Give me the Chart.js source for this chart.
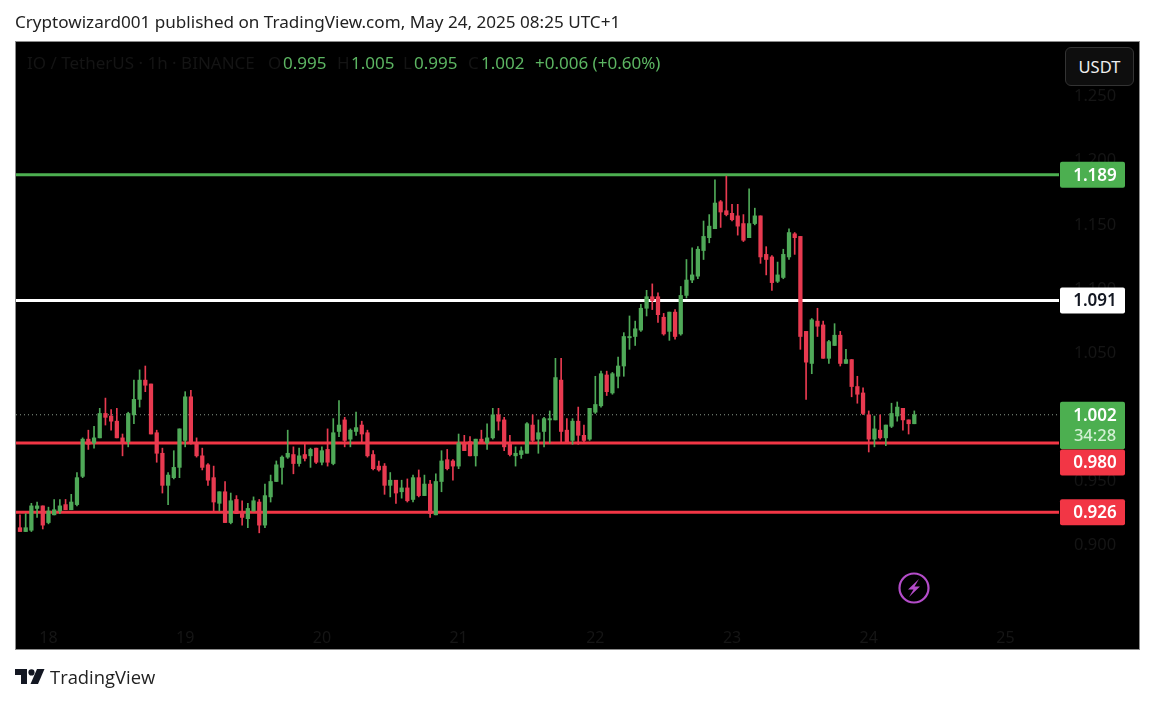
<!DOCTYPE html>
<html>
<head>
<meta charset="utf-8">
<script src="https://cdn.jsdelivr.net/npm/chart.js@4"></script>
<style>
    html, body { margin: 0; padding: 0; background: #fff; }
    #wrap { position: relative; width: 1155px; height: 703px; overflow: hidden; font-family: "Noto Sans", sans-serif; }
    #wrap span, #wrap div { position: absolute; white-space: nowrap; }
    #title { left: 15px; top: 11px; font-size: 17.1px; line-height: 22px; color: #222; }
    .legend { top: 52px; font-size: 17px; line-height: 22px; }
    .dim { color: #141414; }
    .val { color: #5cb562; }
    #usdt { left: 1065px; top: 47px; width: 67px; height: 37px; line-height: 37px; text-align: center; border: 1px solid #333; border-radius: 6px; background: #0e0e0e; color: #eee; font-size: 16.5px; }
    #brand { left: 50px; top: 664px; font-size: 18.4px; line-height: 26px; color: #222; font-family: "Open Sans", sans-serif; }
    canvas { position: absolute; left: 0; top: 0; }
    svg { position: absolute; }
</style>
</head>
<body>
<div id="wrap">
    <canvas id="chart" width="1155" height="703"></canvas>
    <span id="title">Cryptowizard001 published on TradingView.com, May 24, 2025 08:25 UTC+1</span>
    <span class="legend dim" style="left:27px">IO / TetherUS · 1h · BINANCE</span>
    <span class="legend dim" style="left:268px">O</span><span class="legend val" style="left:283px">0.995</span>
    <span class="legend dim" style="left:337px">H</span><span class="legend val" style="left:351px">1.005</span>
    <span class="legend dim" style="left:403px">L</span><span class="legend val" style="left:414px">0.995</span>
    <span class="legend dim" style="left:468px">C</span><span class="legend val" style="left:481px">1.002</span>
    <span class="legend val" style="left:535px">+0.006 (+0.60%)</span>
    <div id="usdt">USDT</div>
    <svg style="left:15px;top:669px" width="30" height="16" viewBox="0 0 30 16">
        <path fill="#131722" d="M0 0h12v15H6V6H0z"/>
        <circle fill="#131722" cx="16.5" cy="3.4" r="3.1"/>
        <path fill="#131722" d="M22 0h7.5L23 15h-7.5z"/>
    </svg>
    <span id="brand">TradingView</span>
    <svg style="left:898px;top:572px" width="32" height="32" viewBox="0 0 32 32">
        <circle cx="16" cy="16" r="14.5" fill="none" stroke="#b44cc9" stroke-width="2.2"/>
        <path fill="#b44cc9" d="M21 7L10 17.5h5.5L11 25l11-10.5h-5.5z"/>
    </svg>
</div>
<script>
// IO / USDT 1h candles
const opens = [
    .914, .911, .912, .929, .931, .918, .924, .927, .932, .928,
    .932, .954, .983, .98, .984, 1.003, 1.001, .997, .984, .981,
    1.002, 1.014, 1.029, 1.026, .988, .972, .947, .953, .961, .982,
    1.016, .98, .97, .963, .953, .933, .942, .918, .936, .926,
    .921, .927, .934, .916, .938, .95, .961, .969, .971, .964,
    .971, .97, .976, .965, .975, .964, .989, .998, .983, .989,
    .994, .988, .971, .962, .962, .947, .951, .942, .945, .936,
    .953, .939, .948, .924, .95, .967, .966, .962, .979, .981,
    .97, .983, .98, .984, 1.002, .998, .979, .97, .971, .972,
    .994, .983, .989, .998, .998, 1.029, .99, .982, .997, .986,
    .983, 1.004, 1.009, 1.033, 1.019, 1.032, 1.04, 1.062, 1.063, 1.068,
    1.085, 1.094, 1.094, 1.078, 1.067, 1.082, 1.065, 1.095, 1.107, 1.11,
    1.13, 1.14, 1.147, 1.168, 1.161, 1.159, 1.157, 1.151, 1.14, 1.151,
    1.157, 1.127, 1.125, 1.106, 1.109, 1.125, 1.143, 1.141, 1.067, 1.042,
    1.075, 1.072, 1.046, 1.056, 1.064, 1.042, 1.045, 1.024, 1.019, 1.002,
    .983, .99, .984, .993, 1.001, 1.007, .998, .995
];
const closes = [
    .911, .914, .931, .931, .916, .927, .928, .931, .928, .934,
    .953, .983, .979, .984, 1.003, 1.0, .997, .984, .981, 1.003,
    1.014, 1.029, 1.025, .987, .972, .947, .955, .961, .991, 1.016,
    .98, .97, .961, .951, .934, .942, .918, .935, .925, .922,
    .929, .935, .916, .939, .95, .963, .969, .972, .964, .97,
    .968, .975, .965, .974, .965, .988, .994, .982, .99, .992,
    .987, .97, .96, .959, .947, .951, .941, .945, .935, .953,
    .939, .948, .925, .95, .966, .96, .962, .98, .974, .97,
    .983, .981, .984, 1.002, .997, .977, .971, .972, .974, .995,
    .982, .988, .999, .999, 1.031, .989, .981, .997, .986, .982,
    1.007, 1.01, 1.034, 1.02, 1.034, 1.04, 1.063, 1.063, 1.069, 1.085,
    1.094, 1.091, 1.08, 1.065, 1.082, 1.063, 1.095, 1.107, 1.111, 1.131,
    1.141, 1.149, 1.167, 1.16, 1.158, 1.154, 1.149, 1.138, 1.151, 1.157,
    1.125, 1.123, 1.105, 1.111, 1.127, 1.144, 1.14, 1.063, 1.043, 1.076,
    1.071, 1.046, 1.059, 1.064, 1.042, 1.045, 1.024, 1.018, 1.003, .983,
    .991, .984, .994, 1.003, 1.008, .998, .995, 1.002
];
const highs = [
    .924, .925, .933, .934, .931, .93, .936, .936, .936, .94,
    .957, .984, .99, .993, 1.007, 1.015, 1.006, 1.007, .987, 1.004,
    1.029, 1.037, 1.04, 1.026, .99, .976, .957, .974, .991, 1.02,
    1.021, .984, .976, .964, .962, .942, .95, .941, .939, .935,
    .933, .938, .936, .948, .955, .966, .97, .99, .977, .976,
    .979, .976, .976, .977, .991, .999, 1.013, 1.0, .991, 1.004,
    .997, .99, .974, .966, .964, .957, .951, .951, .952, .955,
    .959, .955, .951, .956, .974, .975, .967, .987, .986, .985,
    .983, .99, .995, 1.007, 1.007, 1.0, .986, .977, .977, .996,
    1.002, .998, 1.0, 1.005, 1.046, 1.046, .999, .999, 1.008, .994,
    1.007, 1.032, 1.036, 1.036, 1.035, 1.047, 1.066, 1.079, 1.075, 1.088,
    1.099, 1.104, 1.097, 1.081, 1.082, 1.084, 1.102, 1.123, 1.132, 1.133,
    1.153, 1.158, 1.185, 1.169, 1.188, 1.166, 1.166, 1.158, 1.178, 1.163,
    1.157, 1.133, 1.126, 1.121, 1.131, 1.147, 1.144, 1.141, 1.067, 1.077,
    1.085, 1.075, 1.06, 1.073, 1.067, 1.053, 1.045, 1.032, 1.023, 1.005,
    1.001, 1.002, .994, 1.011, 1.012, 1.007, .998, 1.005
];
const lows = [
    .911, .911, .911, .922, .913, .917, .924, .925, .928, .928,
    .931, .953, .975, .976, .984, .994, .99, .984, .97, .977,
    .995, 1.008, 1.02, .987, .965, .941, .932, .952, .953, .977,
    .979, .969, .959, .947, .927, .927, .918, .917, .925, .916,
    .914, .927, .91, .914, .934, .95, .948, .968, .956, .962,
    .966, .961, .964, .963, .962, .963, .985, .977, .977, .986,
    .981, .969, .959, .958, .94, .938, .933, .937, .934, .934,
    .938, .939, .922, .924, .942, .959, .951, .96, .974, .97,
    .962, .98, .975, .983, .99, .974, .97, .962, .968, .972,
    .981, .972, .977, .98, .998, .981, .981, .979, .979, .981,
    .982, 1.003, 1.008, 1.017, 1.018, 1.023, 1.032, 1.053, 1.056, 1.067,
    1.079, 1.084, 1.074, 1.064, 1.06, 1.061, 1.064, 1.093, 1.105, 1.108,
    1.123, 1.136, 1.147, 1.148, 1.157, 1.153, 1.142, 1.137, 1.14, 1.15,
    1.12, 1.111, 1.099, 1.105, 1.108, 1.123, 1.127, 1.053, 1.014, 1.034,
    1.063, 1.046, 1.042, 1.056, 1.04, 1.042, 1.016, 1.011, 1.002, .973,
    .977, .983, .978, .992, .997, .99, .987, .995
];

// first candle sits 5 hours before the "18" tick
const firstHour = -5;
const dayLabels = ["18", "19", "20", "21", "22", "23", "24", "25"];

const levelValues = [1.189, 1.091, 0.98, 0.926];
const levelColors = ["#4caf50", "#ffffff", "#f23645", "#f23645"];
const levelText = ["#ffffff", "#131722", "#ffffff", "#ffffff"];
// the 0.980 tag gets pushed down below the current price tag
const levelTagShift = [0, 0, 19.5, 0];

const lastPrice = 1.002;
const countdown = "34:28";

const upColor = "#4fa958";
const downColor = "#e83a50";
const hourMin = -5.7;
const hourMax = 177.4;

const candleColors = opens.map((o, i) => closes[i] >= o ? upColor : downColor);
const hours = opens.map((o, i) => firstHour + i);

function levelLine(value, color, width) {
    return {
        type: "line",
        data: [{ x: hourMin, y: value }, { x: hourMax, y: value }],
        borderColor: color,
        borderWidth: width,
        pointRadius: 0,
        order: 5
    };
}

const paneBackground = {
    id: "paneBackground",
    beforeDraw(chart) {
        const ctx = chart.ctx;
        ctx.save();
        ctx.fillStyle = "#000";
        ctx.fillRect(16, 42, 1123, 607);
        ctx.strokeStyle = "#8c8c8c";
        ctx.lineWidth = 1;
        ctx.strokeRect(15.5, 41.5, 1124, 608);
        ctx.restore();
    }
};

function priceTag(ctx, y, height, fill) {
    ctx.fillStyle = fill;
    ctx.beginPath();
    ctx.roundRect(1060, y, 65, height, 2);
    ctx.fill();
}

const priceTags = {
    id: "priceTags",
    afterDraw(chart) {
        const ctx = chart.ctx;
        const yScale = chart.scales.y;
        ctx.save();
        ctx.textAlign = "center";
        ctx.textBaseline = "middle";

        // current price tag with the countdown under it
        const lastY = yScale.getPixelForValue(lastPrice);
        priceTag(ctx, lastY - 13, 47.5, levelColors[0]);
        ctx.font = "600 17px 'Noto Sans'";
        ctx.fillStyle = "#ffffff";
        ctx.fillText(lastPrice.toFixed(3), 1095, lastY + 1);
        ctx.fillStyle = "#d3f0d5";
        ctx.font = "500 16.5px 'Noto Sans'";
        ctx.fillText(countdown, 1095, lastY + 22);

        ctx.font = "600 17px 'Noto Sans'";
        levelValues.forEach((value, i) => {
            const y = yScale.getPixelForValue(value) + levelTagShift[i];
            priceTag(ctx, y - 13, 26, levelColors[i]);
            ctx.fillStyle = levelText[i];
            ctx.fillText(value.toFixed(3), 1095, y + 1);
        });
        ctx.restore();
    }
};

new Chart("chart", {
    type: "bar",
    data: {
        datasets: [
            {
                data: hours.map((h, i) => ({ x: h, y: [opens[i], closes[i]] })),
                backgroundColor: candleColors,
                barThickness: 3.6,
                minBarLength: 1,
                grouped: false,
                order: 1
            },
            {
                data: hours.map((h, i) => ({ x: h, y: [lows[i], highs[i]] })),
                backgroundColor: candleColors,
                barThickness: 1,
                grouped: false,
                order: 2
            },
            levelLine(levelValues[0], levelColors[0], 3),
            levelLine(levelValues[1], levelColors[1], 3),
            levelLine(levelValues[2], levelColors[2], 3),
            levelLine(levelValues[3], levelColors[3], 3),
            {
                type: "line",
                data: [{ x: hourMin, y: lastPrice }, { x: hourMax, y: lastPrice }],
                borderColor: "#8a9a8c",
                borderWidth: 1,
                borderDash: [1, 3],
                pointRadius: 0,
                order: 6
            }
        ]
    },
    options: {
        responsive: false,
        animation: false,
        devicePixelRatio: 1,
        layout: { padding: { left: 16, top: 42, right: 16, bottom: 54 } },
        plugins: { legend: { display: false }, tooltip: { enabled: false } },
        scales: {
            x: {
                type: "linear",
                offset: false,
                min: hourMin,
                max: hourMax,
                grid: { display: false },
                border: { display: false },
                afterFit(scale) { scale.height = 37; },
                ticks: {
                    stepSize: 24,
                    includeBounds: false,
                    maxRotation: 0,
                    autoSkip: false,
                    padding: 9,
                    color: "#151515",
                    font: { family: "Noto Sans", size: 16 },
                    callback: v => dayLabels[v / 24]
                }
            },
            y: {
                position: "right",
                min: 0.8483,
                max: 1.2925,
                grid: { display: false, drawTicks: false },
                border: { display: false },
                afterFit(scale) { scale.width = 80; },
                ticks: {
                    stepSize: 0.05,
                    includeBounds: false,
                    padding: 15,
                    color: "#151515",
                    font: { family: "Noto Sans", size: 16.5 },
                    // the axis shows nothing under 0.900 in the picture
                    callback: v => v < 0.89 ? "" : v.toFixed(3)
                }
            }
        }
    },
    plugins: [paneBackground, priceTags]
});
</script>
</body>
</html>
